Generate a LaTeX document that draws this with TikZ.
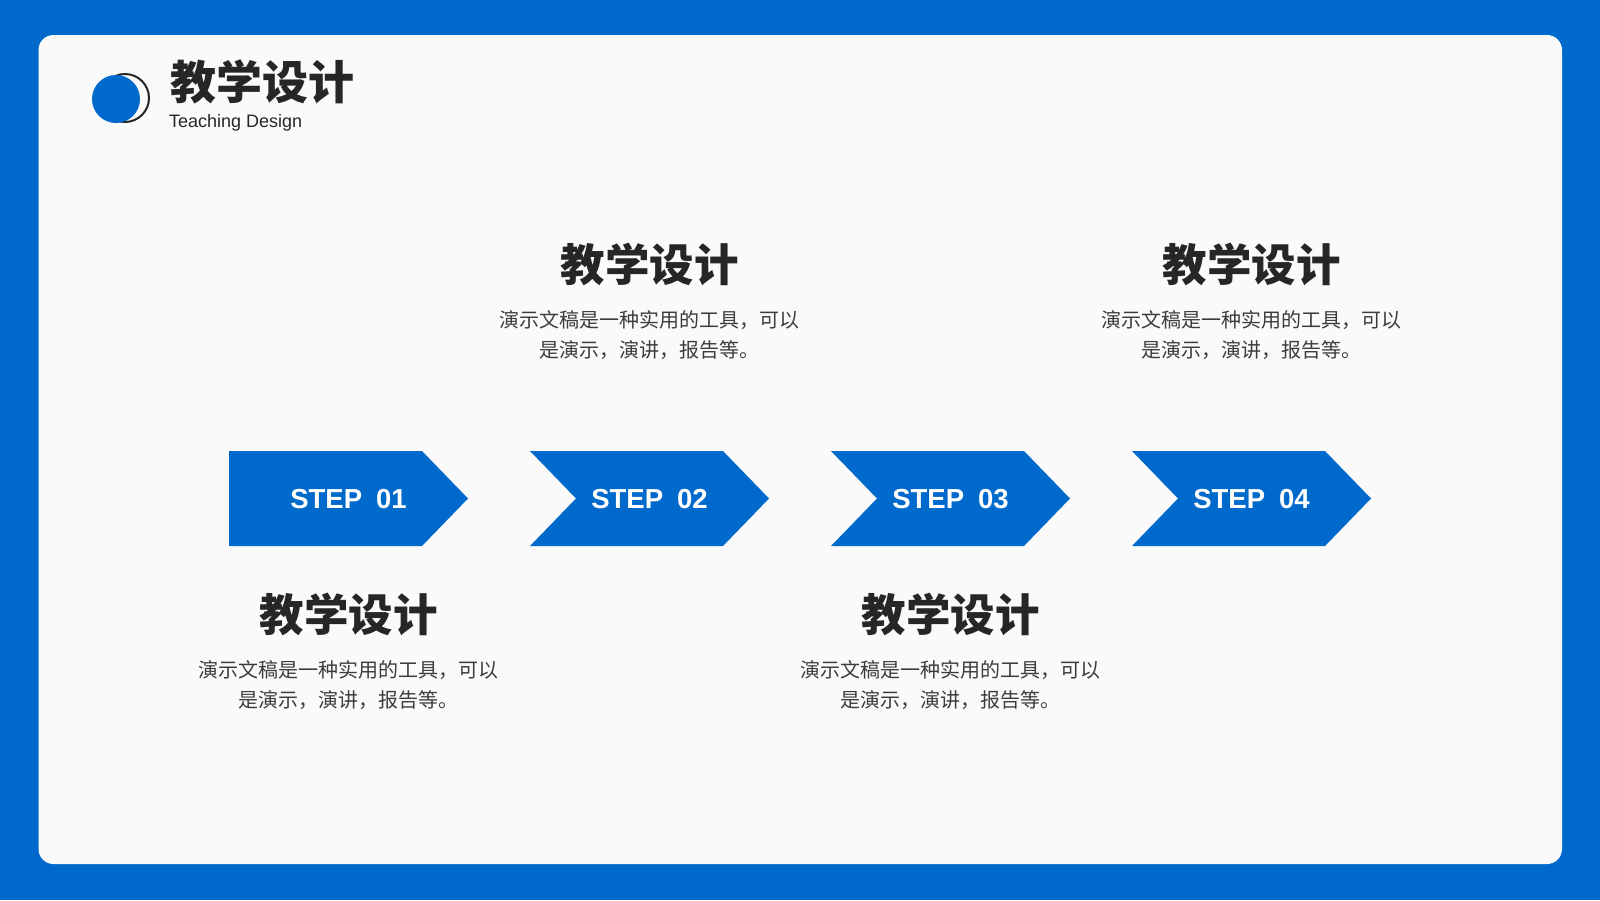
\documentclass[tikz,border=0pt]{standalone}
\usepackage{fontspec}
\setmainfont{Liberation Sans}
\newfontfamily\cjk{Noto Sans CJK SC}
\newfontfamily\cjkbold{Noto Sans CJK SC Black}
\definecolor{mainblue}{HTML}{0069CC}
\definecolor{card}{HTML}{FAFAFA}
\definecolor{ink}{HTML}{262626}
\tikzset{
	steplabel/.style={text=white, font=\bfseries\fontsize{27.5}{27.5}\selectfont, inner sep=0pt},
	heading/.style={text=ink, font=\cjkbold\fontsize{44.5}{44.5}\selectfont, inner sep=0pt},
	desc/.style={text=ink!90, font=\cjk\fontsize{20}{30}\selectfont, align=center, inner sep=0pt}
}

\begin{document}
\begin{tikzpicture}[x=1pt, y=-1pt]
	% frame and card
	\fill[mainblue] (0, 0) rectangle (1600, 900);
	\fill[card, rounded corners=15pt] (38.5, 35) rectangle (1562, 864);
	% header
	\draw[ink, line width=2pt] (125, 98) circle [radius=24pt];
	\fill[mainblue] (116, 99) circle [radius=24pt];
	\node[heading, font=\cjkbold\fontsize{46}{46}\selectfont, anchor=west] (title) at (170, 82) {教学设计};
	\node[text=ink, font=\fontsize{18}{18}\selectfont, anchor=base west, inner sep=0pt] (subtitle) at (169, 127) {Teaching Design};
	% steps
	\foreach \i/\n/\hy/\dy in {0/01/614/685, 1/02/264/335, 2/03/614/685, 3/04/264/335} {
		\pgfmathsetmacro\xl{229+301*\i}
		\ifnum\i=0
			\fill[mainblue] (\xl, 451) -- ++(193, 0) -- ++(46, 47.5) -- ++(-46, 47.5) -- ++(-193, 0) -- cycle;
		\else
			\fill[mainblue] (\xl, 451) -- ++(193, 0) -- ++(46, 47.5) -- ++(-46, 47.5) -- ++(-193, 0) -- ++(46, -47.5) -- cycle;
		\fi
		\node[steplabel] (step\n) at (\xl+119.5, 499) {STEP\hspace{14pt}\n};
		\node[heading] (head\n) at (\xl+119.5, \hy) {教学设计};
		\node[desc] (desc\n) at (\xl+119.5, \dy) {演示文稿是一种实用的工具，可以\\是演示，演讲，报告等。};
	}
\end{tikzpicture}
\end{document}
